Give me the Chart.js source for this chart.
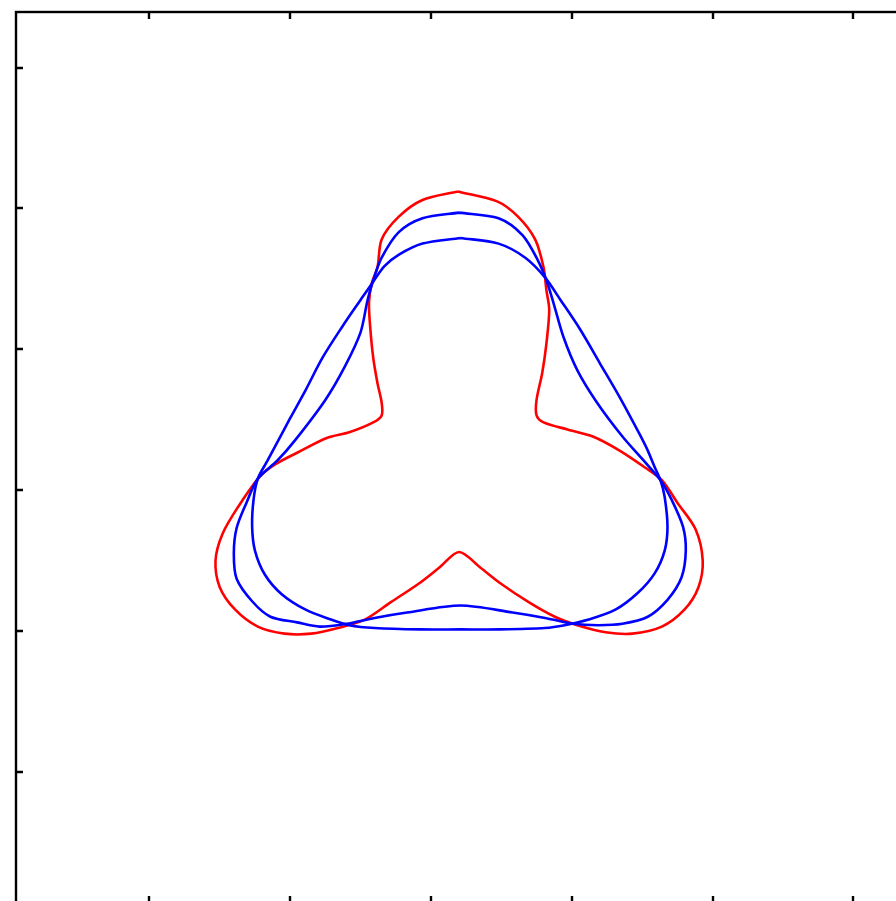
<!DOCTYPE html>
<html>
<head>
<meta charset="utf-8">
<script src="https://cdn.jsdelivr.net/npm/chart.js"></script>
<style>
    html, body { margin: 0; padding: 0; background: #fff; overflow: hidden; }
    #wrap { width: 896px; height: 901px; overflow: hidden; }
</style>
</head>
<body>
<div id="wrap"><canvas id="myChart" width="910" height="910"></canvas></div>
<script>
    // tick marks (no labels in the figure)
    const xTicks = [-2, -1, 0, 1, 2, 3]
    const yTicks = [-2, -1, 0, 1, 2, 3]

    // red curve, clockwise from the top
    const redX = [0.19, 0.47, 0.62, 0.74, 0.80, 0.82, 0.84, 0.82, 0.79, 0.75, 0.75, 0.80, 0.97, 1.15, 1.34, 1.52, 1.64, 1.75, 1.88, 1.93,
        1.90, 1.80, 1.64, 1.43, 1.24, 1.04, 0.88, 0.70, 0.49, 0.35, 0.20, 0.06, -0.08, -0.29, -0.47, -0.66, -0.85, -1.04, -1.23, -1.39,
        -1.50, -1.53, -1.48, -1.37, -1.22, -1.11, -0.94, -0.74, -0.58, -0.41, -0.35, -0.35, -0.38, -0.41, -0.43, -0.44, -0.42, -0.38, -0.35, -0.23, -0.06]
    const redY = [2.12, 2.05, 1.94, 1.78, 1.58, 1.42, 1.28, 1.04, 0.83, 0.64, 0.53, 0.48, 0.43, 0.38, 0.28, 0.16, 0.07, -0.09, -0.28, -0.50,
        -0.69, -0.85, -0.97, -1.02, -1.01, -0.96, -0.90, -0.80, -0.66, -0.55, -0.44, -0.55, -0.66, -0.80, -0.92, -0.98, -1.02, -1.02, -0.97, -0.85,
        -0.69, -0.50, -0.31, -0.12, 0.09, 0.18, 0.27, 0.37, 0.41, 0.48, 0.53, 0.62, 0.76, 0.94, 1.14, 1.33, 1.47, 1.58, 1.78, 1.94, 2.06]

    // blue curve with the higher top
    const blueAX = [0.20, 0.48, 0.65, 0.76, 0.82, 0.87, 0.94, 1.04, 1.18, 1.36, 1.51, 1.63, 1.71, 1.79, 1.81, 1.78, 1.68, 1.54, 1.36, 1.19,
        1.01, 0.82, 0.58, 0.21, -0.17, -0.41, -0.60, -0.79, -0.95, -1.14, -1.27, -1.38, -1.40, -1.38, -1.31, -1.23, -1.09, -0.96, -0.75, -0.61,
        -0.50, -0.45, -0.41, -0.35, -0.23, -0.06]
    const blueAY = [1.97, 1.93, 1.81, 1.63, 1.49, 1.33, 1.09, 0.85, 0.62, 0.38, 0.21, 0.07, -0.07, -0.26, -0.43, -0.62, -0.78, -0.90, -0.95, -0.96,
        -0.95, -0.91, -0.87, -0.82, -0.87, -0.91, -0.95, -0.97, -0.94, -0.90, -0.79, -0.63, -0.45, -0.27, -0.09, 0.08, 0.21, 0.36, 0.64, 0.88,
        1.12, 1.35, 1.49, 1.65, 1.83, 1.93]

    // blue curve, more triangular
    const blueBX = [0.21, 0.48, 0.67, 0.81, 0.92, 1.06, 1.20, 1.34, 1.48, 1.54, 1.59, 1.63, 1.66, 1.68, 1.66, 1.59, 1.47, 1.31, 1.12, 0.95,
        0.81, 0.49, 0.21, -0.08, -0.40, -0.58, -0.71, -0.89, -1.06, -1.18, -1.25, -1.27, -1.26, -1.23, -1.16, -1.08, -1.00, -0.89, -0.77, -0.63,
        -0.50, -0.41, -0.33, -0.23, -0.06]
    const blueBY = [1.79, 1.75, 1.65, 1.51, 1.35, 1.14, 0.90, 0.66, 0.40, 0.28, 0.16, 0.07, -0.05, -0.26, -0.43, -0.59, -0.73, -0.85, -0.92, -0.96,
        -0.98, -0.99, -0.99, -0.99, -0.98, -0.96, -0.92, -0.85, -0.74, -0.60, -0.43, -0.26, -0.07, 0.08, 0.21, 0.36, 0.51, 0.71, 0.94, 1.16,
        1.35, 1.48, 1.59, 1.67, 1.75]

    // closed loop: repeat the first point at the end
    function loop(xs, ys) {
        let pts = xs.map((x, i) => ({ x: x, y: ys[i] }))
        pts.push(pts[0])
        return pts
    }

    const frame = {
        id: 'frame',
        afterDatasetsDraw(chart) {
            const { ctx, chartArea: a } = chart
            const sx = chart.scales.x, sy = chart.scales.y
            const tl = 7
            ctx.save()
            ctx.strokeStyle = '#000'
            ctx.lineWidth = 2.4
            ctx.strokeRect(a.left, a.top, a.right - a.left, a.bottom - a.top)
            ctx.beginPath()
            xTicks.forEach(v => {
                const px = Math.round(sx.getPixelForValue(v))
                ctx.moveTo(px, a.top); ctx.lineTo(px, a.top + tl)
                ctx.moveTo(px, a.bottom); ctx.lineTo(px, a.bottom - tl)
            })
            yTicks.forEach(v => {
                const py = Math.round(sy.getPixelForValue(v))
                ctx.moveTo(a.left, py); ctx.lineTo(a.left + tl, py)
                ctx.moveTo(a.right, py); ctx.lineTo(a.right - tl, py)
            })
            ctx.stroke()
            ctx.restore()
        }
    }

    const curve = (pts, color) => ({
        data: pts,
        showLine: true,
        borderColor: color,
        backgroundColor: color,
        borderWidth: 2.6,
        pointRadius: 0,
        tension: 0.3,
        fill: false
    })

    new Chart(document.getElementById('myChart'), {
        type: 'scatter',
        data: {
            datasets: [
                curve(loop(blueAX, blueAY), '#0000ff'),
                curve(loop(blueBX, blueBY), '#0000ff'),
                curve(loop(redX, redY), '#ff0000')
            ]
        },
        options: {
            responsive: false,
            devicePixelRatio: 1,
            animation: false,
            layout: { padding: { left: 16, top: 12, right: 3, bottom: 7 } },
            plugins: { legend: { display: false }, tooltip: { enabled: false } },
            scales: {
                x: { type: 'linear', display: false, min: -2.947, max: 3.381 },
                y: { type: 'linear', display: false, min: -2.933, max: 3.395 }
            }
        },
        plugins: [frame]
    })
</script>
</body>
</html>
